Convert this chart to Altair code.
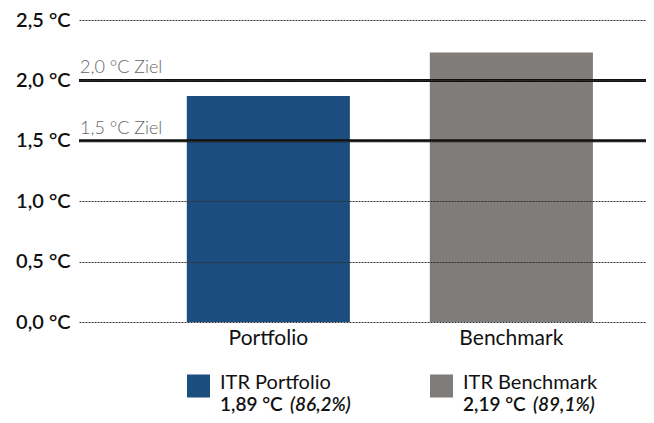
import altair as alt
import pandas as pd

categories = ["Portfolio", "Benchmark"]
bar_values = [1.87, 2.23]
bar_colors = ["#1b4d7e", "#807c79"]
target_levels = [2.0, 1.5]
target_labels = ["2,0 °C Ziel", "1,5 °C Ziel"]
legend_names = ["ITR Portfolio", "ITR Benchmark"]
legend_values = ["1,89 °C", "2,19 °C"]
legend_shares = ["(86,2%)", "(89,1%)"]
y_ticks = [0, 0.5, 1.0, 1.5, 2.0, 2.5]

FONT = "Lato"
W, H = 567, 302

bars_df = pd.DataFrame({"cat": categories, "val": bar_values, "color": bar_colors})
tgt_df = pd.DataFrame({"y": target_levels, "label": target_labels})

xscale = alt.Scale(domain=categories, paddingInner=0.329, paddingOuter=0.331, align=0.67)
yscale = alt.Scale(domain=[0, 2.5], nice=False)

bars = alt.Chart(bars_df).mark_bar().encode(
    x=alt.X("cat:N", scale=xscale, sort=categories,
            axis=alt.Axis(title=None, labelAngle=0, domain=False, ticks=False,
                          labelFont=FONT, labelFontSize=21, labelColor="#111",
                          labelPadding=5)),
    y=alt.Y("val:Q", scale=yscale,
            axis=alt.Axis(title=None, values=y_ticks, domain=False, ticks=False,
                          labelExpr="replace(format(datum.value, '.1f'), '.', ',') + ' °C'",
                          labelFont=FONT, labelFontSize=20, labelFontWeight=600,
                          labelColor="#111", labelPadding=9,
                          grid=True, gridColor="#333", gridDash=[2, 1], gridWidth=1,
                          zindex=1)),
    color=alt.Color("color:N", scale=None),
)

rules = alt.Chart(tgt_df).mark_rule(color="#111", strokeWidth=3).encode(
    y=alt.Y("y:Q", scale=yscale)
)
rule_text = alt.Chart(tgt_df).mark_text(
    align="left", baseline="alphabetic", font=FONT, fontSize=18, fontWeight=300,
    color="#666", dx=1, dy=-7
).encode(x=alt.value(0), y=alt.Y("y:Q", scale=yscale), text="label:N")

layers = [bars, rules, rule_text]
sq_x = [108, 351]
for i in range(2):
    layers.append(alt.Chart(pd.DataFrame({"c": [bar_colors[i]]})).mark_square(
        size=529, opacity=1, filled=True).encode(
        x=alt.value(sq_x[i] + 11.5), y=alt.value(366), color=alt.Color("c:N", scale=None)))
    layers.append(alt.Chart(pd.DataFrame({"t": [legend_names[i]]})).mark_text(
        align="left", baseline="middle", font=FONT, fontSize=20, color="#111").encode(
        x=alt.value(sq_x[i] + 33), y=alt.value(363), text="t:N"))
    layers.append(alt.Chart(pd.DataFrame({"t": [legend_values[i]]})).mark_text(
        align="left", baseline="middle", font=FONT, fontSize=19, fontWeight=600,
        color="#111").encode(
        x=alt.value(sq_x[i] + 33), y=alt.value(385), text="t:N"))
    layers.append(alt.Chart(pd.DataFrame({"t": [legend_shares[i]]})).mark_text(
        align="left", baseline="middle", font=FONT, fontSize=19, fontWeight=600,
        fontStyle="italic", color="#111").encode(
        x=alt.value(sq_x[i] + 33 + 70), y=alt.value(385), text="t:N"))

chart = alt.layer(*layers).properties(
    width=W, height=H,
    autosize=alt.AutoSizeParams(type="none"),
    padding={"left": 71, "top": 12, "right": 0, "bottom": 93},
).configure_view(stroke=None)

chart.save("out.html", embed_options={"renderer": "svg", "actions": False})
